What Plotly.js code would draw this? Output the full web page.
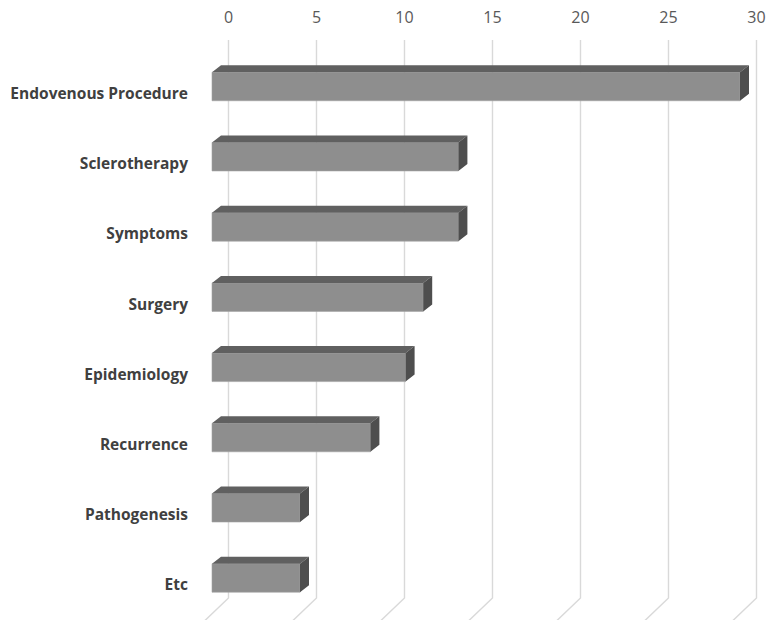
<!DOCTYPE html>
<html>
<head>
<meta charset="utf-8">
<script src="https://cdn.plot.ly/plotly-3.0.1.min.js"></script>
<style>html,body{margin:0;padding:0;background:#fff;}#chart{width:767px;height:620px;}</style>
</head>
<body>
<div id="chart"></div>
<script>
// ---- data ----
const categories = ['Endovenous Procedure','Sclerotherapy','Symptoms','Surgery','Epidemiology','Recurrence','Pathogenesis','Etc'];
const values = [30, 14, 14, 12, 11, 9, 5, 5];
const tickValues = [0, 5, 10, 15, 20, 25, 30];
const tickLabels = ['0', '5', '10', '15', '20', '25', '30'];

// ---- geometry (pixel-based, converted to axis units) ----
const W = 767, H = 620;
const mL = 195, mT = 32;
const pxPerUnit = 17.6;          // horizontal px per value unit
const pxPerCat = 70.21;          // vertical px per category
const front0 = 212, back0 = 228.5; // pixel of value 0 on bar front plane / back wall
const firstCatPx = 86.5;         // pixel center of first bar's front face
const toY = px => (px - firstCatPx) / pxPerCat;
const yRange = [toY(H), toY(mT)];
const xFrontRange = [(mL - front0) / pxPerUnit, (W - front0) / pxPerUnit];
const xBackRange = [(mL - back0) / pxPerUnit, (W - back0) / pxPerUnit];
const barW = 28.5 / pxPerCat;
const depthX = 9 / pxPerUnit, depthY = 7 / pxPerCat;
const labelShift = 7 / pxPerCat;

const idx = categories.map((c, i) => i);

// gridlines on back wall + floor
const gx = [], gy = [];
const gTop = toY(40), gFloor = toY(598), gBot = toY(626);
const diagDx = -(28 * 23 / 22) / pxPerUnit;
tickValues.forEach(t => {
  gx.push(t, t, t + diagDx, null);
  gy.push(gTop, gFloor, gBot, null);
});

// top and side faces
const tx = [], ty = [], sx = [], sy = [];
values.forEach((v, i) => {
  const yt = i - barW / 2, yb = i + barW / 2;
  tx.push(0, v, v + depthX, depthX, null);
  ty.push(yt, yt, yt - depthY, yt - depthY, null);
  sx.push(v, v + depthX, v + depthX, v, null);
  sy.push(yt, yt - depthY, yb - depthY, yb, null);
});

const traces = [
  {type: 'scatter', mode: 'lines', x: gx, y: gy, xaxis: 'x', yaxis: 'y',
   line: {color: '#d9d9d9', width: 1.4}, hoverinfo: 'skip', showlegend: false},
  {type: 'bar', orientation: 'h', x: values, y: idx, xaxis: 'x2', yaxis: 'y2',
   width: barW, marker: {color: '#8e8e8e', line: {color: '#a3a3a3', width: 0.6}},
   hoverinfo: 'skip', showlegend: false},
  {type: 'scatter', mode: 'lines', x: tx, y: ty, xaxis: 'x2', yaxis: 'y2',
   fill: 'toself', fillcolor: '#606060', line: {width: 0, color: '#606060'},
   hoverinfo: 'skip', showlegend: false},
  {type: 'scatter', mode: 'lines', x: sx, y: sy, xaxis: 'x2', yaxis: 'y2',
   fill: 'toself', fillcolor: '#4e4e4e', line: {width: 0, color: '#4e4e4e'},
   hoverinfo: 'skip', showlegend: false}
];

const layout = {
  width: W, height: H,
  margin: {l: mL, r: 0, t: mT, b: 0, pad: 0},
  paper_bgcolor: '#ffffff', plot_bgcolor: 'rgba(0,0,0,0)',
  showlegend: false,
  xaxis: {range: xBackRange, side: 'top', tickmode: 'array', tickvals: tickValues, ticktext: tickLabels,
          showgrid: false, zeroline: false, showline: false, ticks: '', ticklabelstandoff: 5,
          tickfont: {family: 'Open Sans', size: 16, color: '#595959'}, fixedrange: true},
  yaxis: {range: yRange, tickmode: 'array', tickvals: idx.map(i => i + labelShift), ticktext: categories,
          showgrid: false, zeroline: false, showline: false, ticks: '', ticklabelstandoff: 6,
          tickfont: {family: 'Open Sans', size: 15.5, color: '#404040', weight: 'bold'}, fixedrange: true},
  xaxis2: {range: xFrontRange, overlaying: 'x', anchor: 'y2', visible: false, fixedrange: true},
  yaxis2: {range: yRange, overlaying: 'y', anchor: 'x2', visible: false, fixedrange: true}
};

Plotly.newPlot('chart', traces, layout, {displayModeBar: false, staticPlot: true});
</script>
</body>
</html>
